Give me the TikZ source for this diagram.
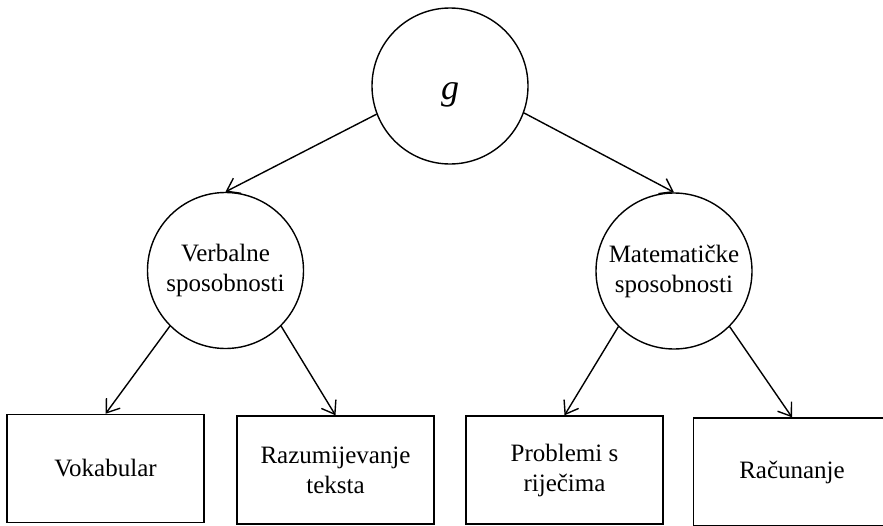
\documentclass[tikz,border=0pt]{standalone}
\usepackage{fontspec}
\setmainfont{Liberation Serif}
\usetikzlibrary{arrows.meta}
\begin{document}
\begin{tikzpicture}[x=1pt,y=-1pt,
  line width=1.4pt,
  factor/.style={circle,draw,inner sep=0pt,minimum size=156pt,align=center,
    font=\fontsize{25}{30}\selectfont},
  measure/.style={rectangle,draw,inner sep=0pt,minimum width=197pt,minimum height=108pt,
    align=center,font=\fontsize{25}{30}\selectfont},
  link/.style={-{Straight Barb[length=12pt,width=17pt]}}]
\useasboundingbox (0,0) rectangle (883,525);
\fill[white] (0,0) rectangle (883,525);
\clip (0,0) rectangle (883,525);

% general factor and the two group factors
\node[factor,font=\fontsize{36}{40}\selectfont\itshape] (g) at (450,86)
  {\smash{\raisebox{-13pt}{g}}};
\node[factor] (verb) at (225.5,270.5) {Verbalne\\sposobnosti};
\node[factor] (mat) at (674,271) {Matematičke\\sposobnosti};

% tests
\node[measure] (vok) at (105.5,468.5) {Vokabular};
\node[measure] (raz) at (335.5,470) {Razumijevanje\\teksta};
\node[measure] (prob) at (564.5,470) {Problemi s\\riječima};
\node[measure] (rac) at (792,472) {Računanje};

% loadings
\draw[link] (g.201.7) -- (verb.north);
\draw[link] (g.340.4) -- (mat.north);
\draw[link] (verb.225) -- (vok.north);
\draw[link] (verb.315) -- (raz.north);
\draw[link] (mat.225) -- (prob.north);
\draw[link] (mat.315) -- (rac.north);
\end{tikzpicture}
\end{document}
